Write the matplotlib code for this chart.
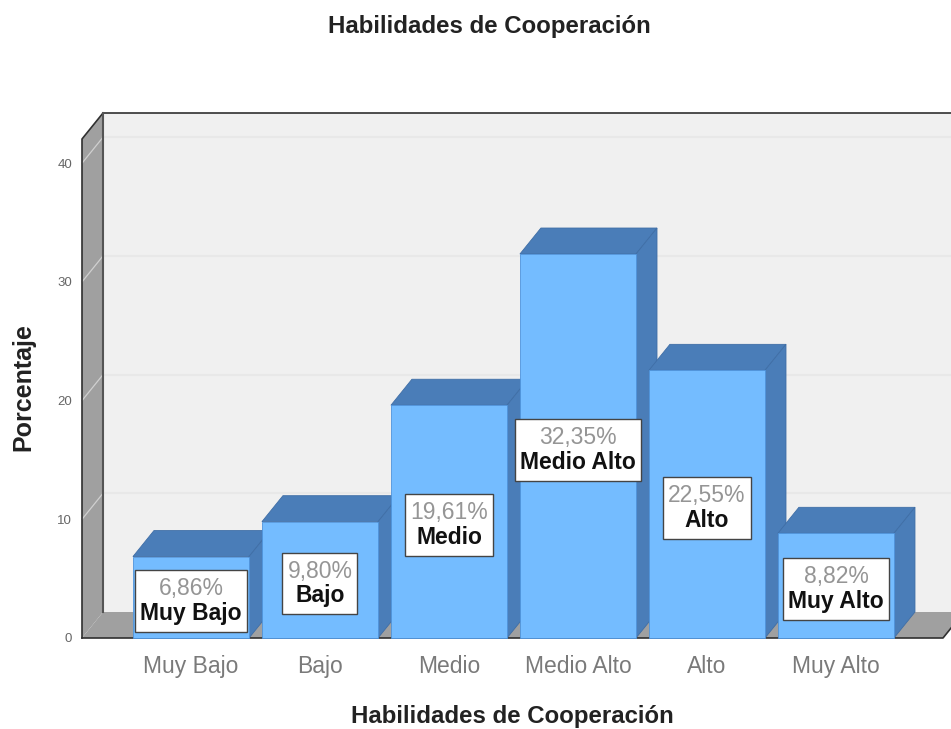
# Habilidades de Cooperacion - 3D style bars

import matplotlib
matplotlib.use('Agg')
import matplotlib.pyplot as plt
from matplotlib.patches import Rectangle
from matplotlib.transforms import Bbox

plt.rcParams['font.family'] = ['Liberation Sans', 'DejaVu Sans']

# Data

categorias = ['Muy Bajo', 'Bajo', 'Medio', 'Medio Alto', 'Alto', 'Muy Alto']
porcentajes = [6.86, 9.80, 19.61, 32.35, 22.55, 8.82]
yticks = [0, 10, 20, 30, 40]

# Colors

front_col = '#74bcff'
top_col = '#4a7db8'
side_col = '#4a7db8'
wall_col = '#f0f0f0'
gray_col = '#a0a0a0'
grid_col = '#e8e8e8'
line_col = '#303030'
text_col = '#7a7a7a'

W, H = 951, 729
fig = plt.figure(figsize=(W / 100, H / 100), dpi=100)

# Axes is the front plane of the box
ax = fig.add_axes([82 / W, (H - 638) / H, (943 - 82) / W, (638 - 139) / H])
x0, x1 = -0.845, 5.83
y1 = 42.04
ax.set_xlim(x0, x1)
ax.set_ylim(0, y1)
for s in ax.spines.values():
    s.set_visible(False)

# depth of the box, in data units
dx = 21 / 129
dy = 26 / 11.87
bw = 0.9

# Walls and floor
ax.fill([x0 + dx, x1 + dx, x1 + dx, x0 + dx], [dy, dy, y1 + dy, y1 + dy],
        color=wall_col, lw=0, clip_on=False, zorder=1)
ax.fill([x0, x0 + dx, x0 + dx, x0], [0, dy, y1 + dy, y1],
        color=gray_col, lw=0, clip_on=False, zorder=1)
ax.fill([x0, x1, x1 + dx, x0 + dx], [0, 0, dy, dy],
        color=gray_col, lw=0, clip_on=False, zorder=1)

# Grid lines
for t in yticks[1:]:
    ax.plot([x0 + dx, x1 + dx], [t + dy, t + dy], color=grid_col, lw=1.5,
            clip_on=False, zorder=2)
    ax.plot([x0, x0 + dx], [t, t + dy], color='#d0d0d0', lw=0.9,
            clip_on=False, zorder=2)

# Box outline
ax.plot([x0, x0, x0 + dx, x1 + dx], [0, y1, y1 + dy, y1 + dy], color=line_col,
        lw=1.2, clip_on=False, zorder=3)
ax.plot([x0 + dx, x0 + dx], [dy, y1 + dy], color='#555555', lw=1.5,
        clip_on=False, zorder=3)
ax.plot([x0, x1, x1 + dx], [0, 0, dy], color=line_col, lw=1.2,
        clip_on=False, zorder=3)

# Bars, left to right so each one covers the side of the previous
for i, v in enumerate(porcentajes):
    z = 4 + i
    l, r = i - bw / 2, i + bw / 2
    ax.fill([l, r, r + dx, l + dx], [v, v, v + dy, v + dy], fc=top_col,
            ec='#3f6ea6', lw=0.6, clip_on=False, zorder=z)
    ax.fill([r, r + dx, r + dx, r], [0, dy, v + dy, v], fc=side_col,
            ec='#3f6ea6', lw=0.6, clip_on=False, zorder=z)
    ax.bar(i, v, width=bw, color=front_col, edgecolor='#4f94dc', linewidth=0.6,
           clip_on=False, zorder=z)

# Data labels, the white box is sized from the two texts it holds
renderer = fig.canvas.get_renderer()
for i, (c, v) in enumerate(zip(categorias, porcentajes)):
    pct = f'{v:.2f}%'.replace('.', ',')
    t1 = ax.annotate(pct, (i, v / 2), xytext=(0, -2), textcoords='offset points',
                     color='#959595', fontsize=16.5, ha='center', va='bottom', zorder=21)
    t2 = ax.annotate(c, (i, v / 2), xytext=(0, -3.3), textcoords='offset points',
                     color='#111111', fontsize=16.5, fontweight='bold', ha='center',
                     va='top', zorder=21)
    box = Bbox.union([t1.get_window_extent(renderer), t2.get_window_extent(renderer)])
    box = box.expanded((box.width + 10) / box.width, (box.height + 14) / box.height)
    box = box.transformed(ax.transData.inverted())
    ax.add_patch(Rectangle((box.x0, box.y0), box.width, box.height, fc='white',
                           ec='#444444', lw=1, clip_on=False, zorder=20))

# Axes text
ax.set_xticks(range(len(categorias)))
ax.set_xticklabels(categorias, fontsize=16.5, color=text_col)
ax.set_yticks(yticks)
ax.set_yticklabels([str(t) for t in yticks], fontsize=9.5, color='#666666')
ax.tick_params(axis='x', length=0, pad=12)
ax.tick_params(axis='y', length=0, pad=7)

fig.text(489 / W, 1 - 26 / H, 'Habilidades de Cooperación', fontsize=17.3,
         fontweight='bold', color='#222222', ha='center', va='center')
fig.text(512 / W, 1 - 716 / H, 'Habilidades de Cooperación', fontsize=17.3,
         fontweight='bold', color='#222222', ha='center', va='center')
fig.text(23 / W, 1 - 387 / H, 'Porcentaje', fontsize=18,
         fontweight='bold', color='#222222', rotation=90, ha='center', va='center')

fig.savefig('out.png', dpi=100)
